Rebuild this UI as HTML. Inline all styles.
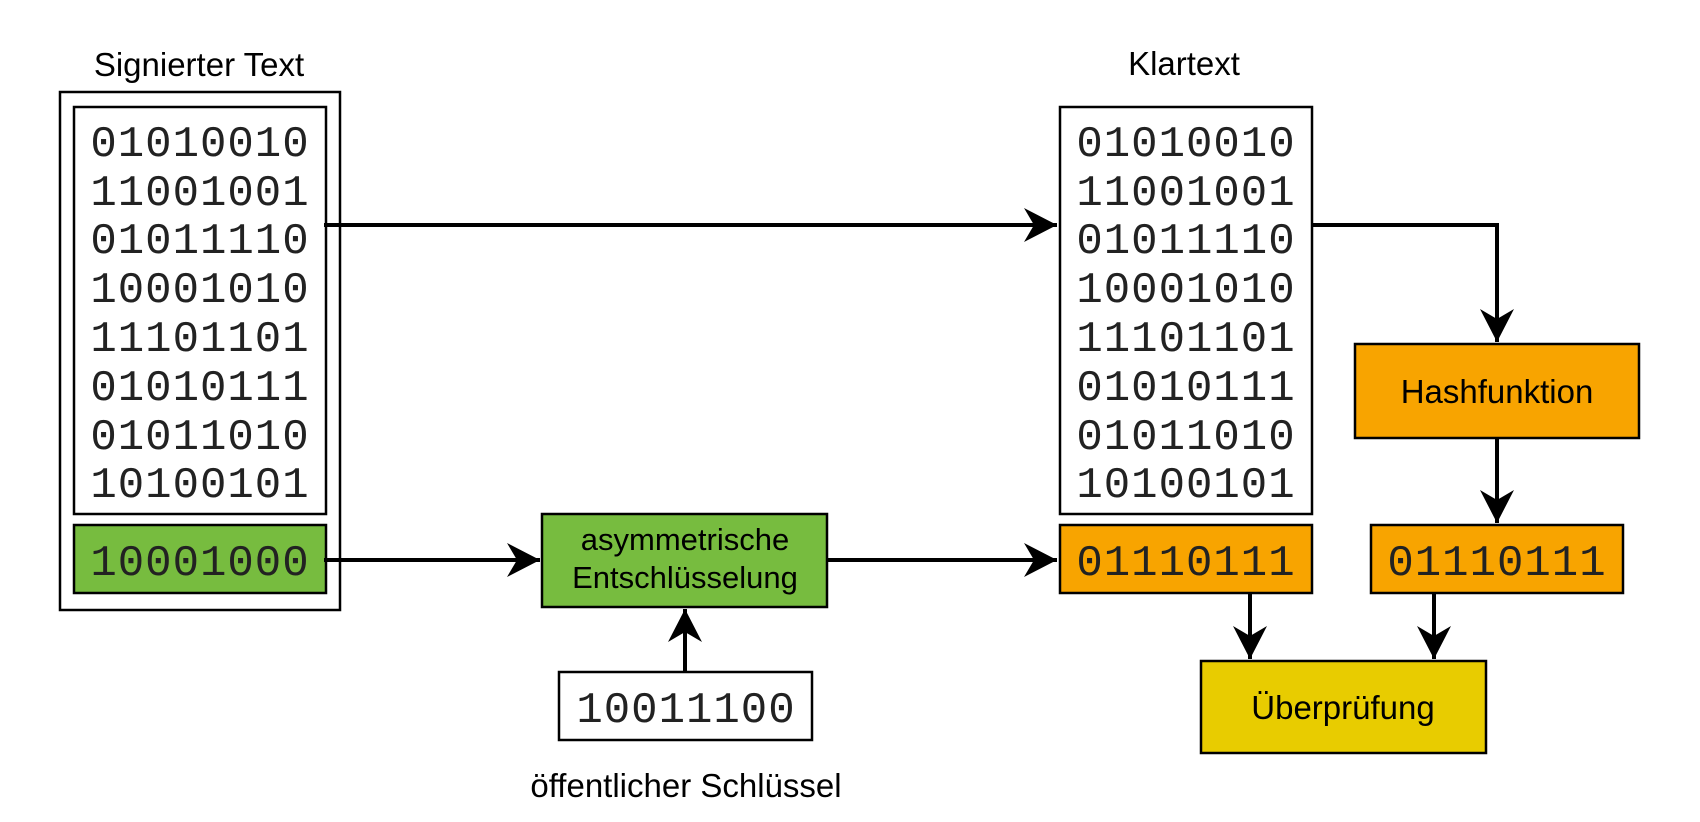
<!DOCTYPE html>
<html><head><meta charset="utf-8"><style>
html,body{margin:0;padding:0;background:#fff}
svg{display:block}
.t{font-family:"Liberation Sans",sans-serif;fill:#000}
.m{font-family:"Liberation Mono",monospace;fill:#222;font-size:44px;letter-spacing:1px}
</style></head><body>
<svg width="1700" height="822" viewBox="0 0 1700 822" xmlns="http://www.w3.org/2000/svg">
<defs>
<marker id="a" markerWidth="10" markerHeight="10" refX="9" refY="5" orient="auto" markerUnits="userSpaceOnUse" viewBox="0 0 10 10" style="overflow:visible">
<path d="M-24,-12 L9,5 L-24,22 L-14,5 Z" fill="#000"/>
</marker>
</defs>
<g stroke="#000" stroke-width="2.5">
<rect x="60" y="92" width="280" height="518" fill="#fff"/>
<rect x="74" y="107" width="252" height="407" fill="#fff"/>
<rect x="74" y="525" width="252" height="68" fill="#77bc3f"/>
<rect x="542" y="514" width="285" height="93" fill="#77bc3f"/>
<rect x="559" y="672" width="253" height="68" fill="#fff"/>
<rect x="1060" y="107" width="252" height="407" fill="#fff"/>
<rect x="1060" y="525" width="252" height="68" fill="#f8a400"/>
<rect x="1355" y="344" width="284" height="94" fill="#f8a400"/>
<rect x="1371" y="525" width="252" height="68" fill="#f8a400"/>
<rect x="1201" y="661" width="285" height="92" fill="#e8cc00"/>
</g>
<g stroke="#000" stroke-width="4" fill="none">
<path d="M324 225 H1057" marker-end="url(#a)"/>
<path d="M324 560 H540" marker-end="url(#a)"/>
<path d="M827 560 H1057" marker-end="url(#a)"/>
<path d="M685 672 V609" marker-end="url(#a)"/>
<path d="M1312 225 H1497 V342" marker-end="url(#a)"/>
<path d="M1497 438 V523" marker-end="url(#a)"/>
<path d="M1250 593 V659" marker-end="url(#a)"/>
<path d="M1434 593 V659" marker-end="url(#a)"/>
</g>
<text class="t" x="199" y="76" font-size="33" text-anchor="middle">Signierter Text</text>
<text class="t" x="1184" y="75" font-size="33" text-anchor="middle">Klartext</text>
<g class="m" text-anchor="middle">
<text x="200" y="156">01010010</text>
<text x="200" y="205">11001001</text>
<text x="200" y="253">01011110</text>
<text x="200" y="302">10001010</text>
<text x="200" y="351">11101101</text>
<text x="200" y="400">01010111</text>
<text x="200" y="449">01011010</text>
<text x="200" y="497">10100101</text>
<text x="200" y="575">10001000</text>
<text x="1186" y="156">01010010</text>
<text x="1186" y="205">11001001</text>
<text x="1186" y="253">01011110</text>
<text x="1186" y="302">10001010</text>
<text x="1186" y="351">11101101</text>
<text x="1186" y="400">01010111</text>
<text x="1186" y="449">01011010</text>
<text x="1186" y="497">10100101</text>
<text x="1186" y="575">01110111</text>
<text x="1497" y="575">01110111</text>
<text x="686" y="722">10011100</text>
</g>
<text class="t" x="685" y="550" font-size="31" text-anchor="middle">asymmetrische</text>
<text class="t" x="685" y="588" font-size="31" text-anchor="middle">Entschlüsselung</text>
<text class="t" x="1497" y="403" font-size="33" text-anchor="middle">Hashfunktion</text>
<text class="t" x="1343" y="719" font-size="33" text-anchor="middle">Überprüfung</text>
<text class="t" x="686" y="797" font-size="33" text-anchor="middle">öffentlicher Schlüssel</text>
</svg>
</body></html>
